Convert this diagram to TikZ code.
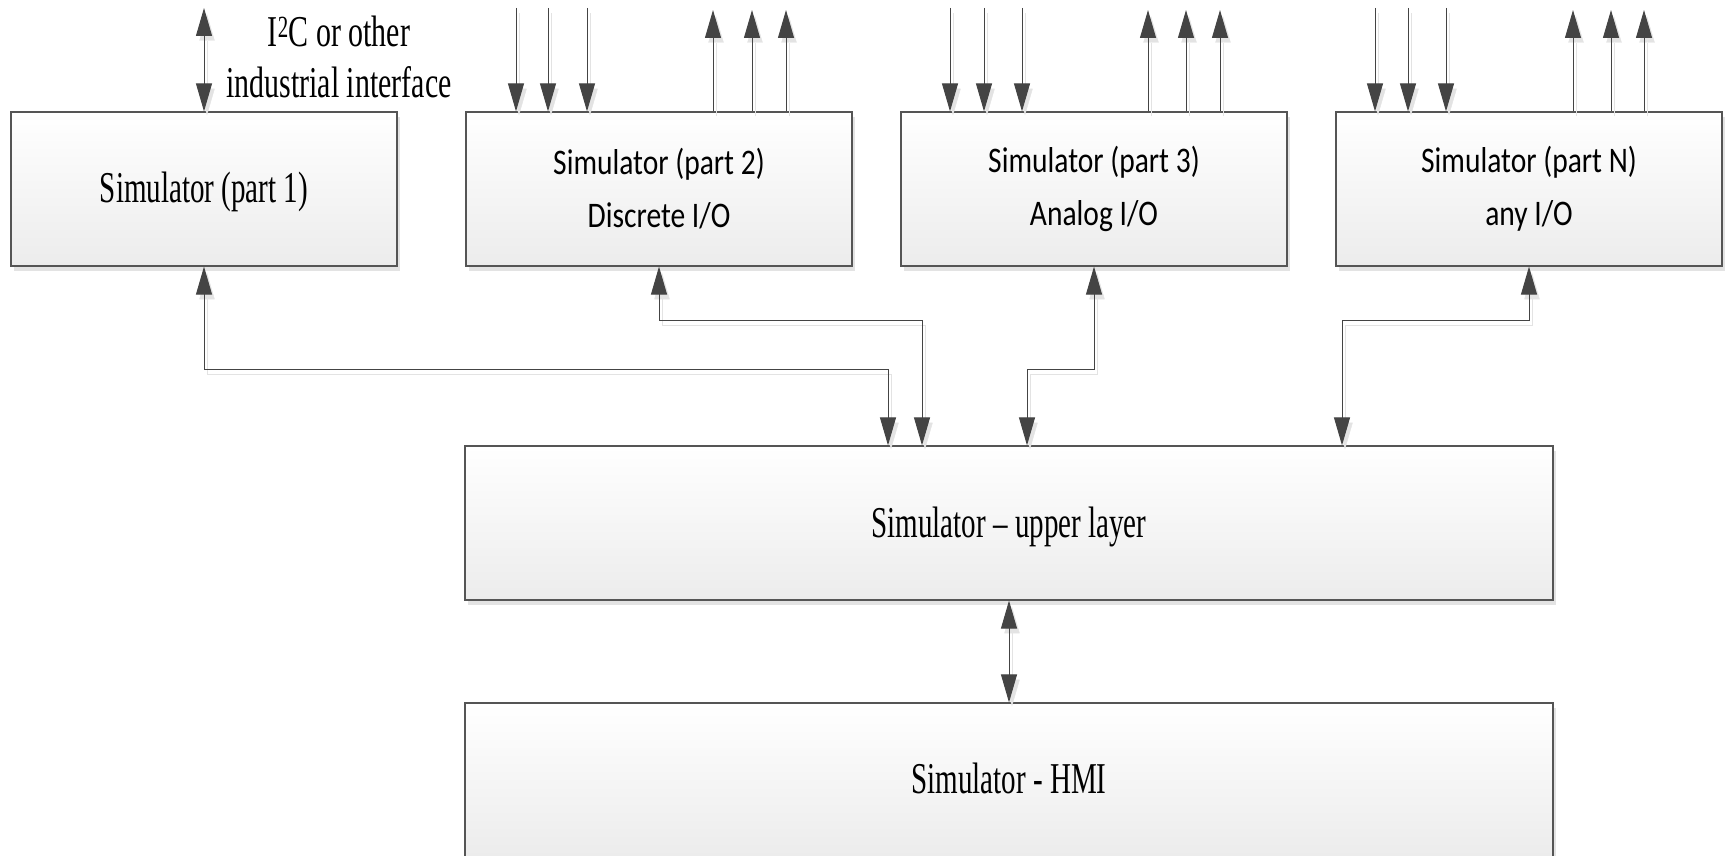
\documentclass[tikz,border=0pt]{standalone}
\usepackage{fontspec}
\usetikzlibrary{arrows.meta,shadows,calc}
\newfontfamily\serifnarrow[FakeStretch=0.66]{Liberation Serif}
\newfontfamily\seriflabel[FakeStretch=0.68]{Liberation Serif}
\newfontfamily\calibrinarrow[FakeStretch=0.82]{Carlito}
\definecolor{linec}{HTML}{444444}
\definecolor{boxline}{HTML}{555555}
\definecolor{shadowc}{HTML}{E3E3E3}
\definecolor{boxbot}{HTML}{ECECEC}
\begin{document}
\begin{tikzpicture}[x=1pt,y=-1pt,
  box/.style={draw=boxline, line width=1.2pt, top color=white, bottom color=boxbot,
    minimum width=386pt, minimum height=154pt, inner sep=0pt, align=center,
    drop shadow={shadow xshift=3pt, shadow yshift=-5pt, fill=shadowc, opacity=1}},
  widebox/.style={box, minimum width=1088pt},
  partfont/.style={font=\calibrinarrow\fontsize{36}{53}\selectfont},
  tnrfont/.style={font=\serifnarrow\fontsize{44}{53}\selectfont, text height=30pt, text depth=4pt},
  labfont/.style={font=\seriflabel\fontsize{44}{51}\selectfont, align=center, inner sep=0pt},
  conn/.style={draw=linec, line width=1pt, >={Triangle[length=28pt,width=16pt]},
    preaction={draw=shadowc, transform canvas={shift={(3pt,-5pt)}}}}
]
\useasboundingbox (0,0) rectangle (1725,856);

\node[box, tnrfont] (p1) at (204,189) {Simulator (part 1)};
\node[box, partfont] (p2) at (659,189) {Simulator (part 2)\\Discrete I/O};
\node[box, partfont] (p3) at (1094,189) {Simulator (part 3)\\Analog I/O};
\node[box, partfont] (pN) at (1529,189) {Simulator (part N)\\any I/O};
\node[widebox, tnrfont, text depth=2pt] (up) at (1009,523) {Simulator – upper layer};
\node[widebox, tnrfont] (hmi) at (1009,780) {Simulator - HMI};
\node[labfont] (lab) at (339,57) {I\textsuperscript{2}C or other\\industrial interface};

% I2C interface
\coordinate (i2c) at (204,8);
\draw[conn,<->] (i2c) -- (p1.north);

% inputs
\foreach \x in {516,548,587} { \coordinate (in) at (\x,8); \draw[conn,->] (in) -- (in |- p2.north); }
\foreach \x in {950,984,1022} { \coordinate (in) at (\x,8); \draw[conn,->] (in) -- (in |- p3.north); }
\foreach \x in {1375,1408,1446} { \coordinate (in) at (\x,8); \draw[conn,->] (in) -- (in |- pN.north); }
% outputs
\foreach \x in {713,752,786} { \coordinate (out) at (\x,10); \draw[conn,->] (out |- p2.north) -- (out); }
\foreach \x in {1148,1186,1220} { \coordinate (out) at (\x,10); \draw[conn,->] (out |- p3.north) -- (out); }
\foreach \x in {1573,1611,1644} { \coordinate (out) at (\x,10); \draw[conn,->] (out |- pN.north) -- (out); }

% links to upper layer
\coordinate (k1) at (888,369);
\coordinate (k2) at (922,320);
\coordinate (k3) at (1027,369);
\coordinate (k4) at (1342,320);
\draw[conn,<->] (p1.south) |- (k1) -- (k1 |- up.north);
\draw[conn,<->] (p2.south) |- (k2) -- (k2 |- up.north);
\draw[conn,<->] (p3.south) |- (k3) -- (k3 |- up.north);
\draw[conn,<->] (pN.south) |- (k4) -- (k4 |- up.north);

% upper layer to HMI
\draw[conn,<->] (up.south) -- (hmi.north);
\end{tikzpicture}
\end{document}
